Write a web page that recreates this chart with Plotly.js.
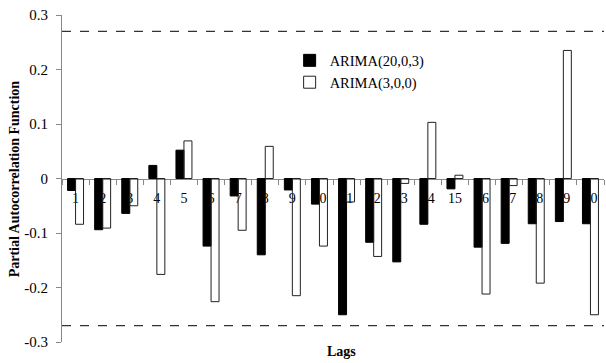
<!DOCTYPE html>
<html>
<head>
<meta charset="utf-8">
<script src="https://cdn.plot.ly/plotly-3.0.1.min.js"></script>
<style>html,body{margin:0;padding:0;background:#fff;}#chart{width:606px;height:363px;}</style>
</head>
<body>
<div id="chart"></div>
<script>
const lags = ['1','2','3','4','5','6','7','8','9','10','11','12','13','14','15','16','17','18','19','20'];
const arima2003 = [-0.022,-0.094,-0.064,0.024,0.052,-0.124,-0.032,-0.140,-0.021,-0.047,-0.250,-0.117,-0.153,-0.084,-0.019,-0.126,-0.119,-0.083,-0.079,-0.083];
const arima300 = [-0.084,-0.091,-0.050,-0.176,0.069,-0.226,-0.095,0.059,-0.215,-0.124,-0.043,-0.143,-0.009,0.103,0.006,-0.212,-0.013,-0.192,0.235,-0.250];
const seriesNames = ['ARIMA(20,0,3)','ARIMA(3,0,0)'];
const bound = 0.27;
const yTicks = [-0.3,-0.2,-0.1,0,0.1,0.2,0.3];
const yTickText = ['-0.3','-0.2','-0.1','0','0.1','0.2','0.3'];

const serif = "'Liberation Serif', 'Times New Roman', serif";

const traces = [
  {type:'bar', name:seriesNames[0], x:lags, y:arima2003,
   marker:{color:'#000', line:{color:'#000', width:1}}},
  {type:'bar', name:seriesNames[1], x:lags, y:arima300,
   marker:{color:'rgba(255,255,255,0)', line:{color:'#222', width:1}}}
];

const layout = {
  width:606, height:363,
  margin:{l:62, r:2, t:15, b:21},
  paper_bgcolor:'#fff', plot_bgcolor:'#fff',
  font:{family:serif, size:14, color:'#000'},
  barmode:'group', bargap:0.41, bargroupgap:0,
  showlegend:true,
  legend:{x:0.42, y:0.91, xanchor:'left', yanchor:'top', bgcolor:'rgba(0,0,0,0)',
          font:{family:serif, size:14.5, color:'#000'}, tracegroupgap:0},
  xaxis:{type:'category', anchor:'free', position:0.5, layer:'below traces',
         showline:true, linecolor:'#888', linewidth:1,
         ticks:'outside', ticklen:5, tickcolor:'#888', tickson:'boundaries',
         ticklabelstandoff:7,
         showgrid:false, zeroline:false, fixedrange:true,
         tickfont:{family:serif, size:14, color:'#000'}},
  yaxis:{range:[-0.3,0.3], tickvals:yTicks, ticktext:yTickText,
         showline:true, linecolor:'#888', linewidth:1,
         ticks:'outside', ticklen:5, tickcolor:'#888',
         ticklabelstandoff:5,
         showgrid:false, zeroline:false,
         tickfont:{family:serif, size:15, color:'#000'}},
  shapes:[
    {type:'line', xref:'paper', x0:0, x1:1, yref:'y', y0:bound, y1:bound,
     line:{color:'#333', width:1.3, dash:'dash'}},
    {type:'line', xref:'paper', x0:0, x1:1, yref:'y', y0:-bound, y1:-bound,
     line:{color:'#333', width:1.3, dash:'dash'}}
  ],
  annotations:[
    {text:'<b>Lags</b>', xref:'paper', yref:'paper', x:0.515, y:-0.028, xanchor:'center', yanchor:'middle',
     showarrow:false, font:{family:serif, size:14, color:'#000'}},
    {text:'<b>Partial Autocorrelation Function</b>', xref:'paper', yref:'paper', x:-0.087, y:0.5,
     xanchor:'center', yanchor:'middle', textangle:-90,
     showarrow:false, font:{family:serif, size:14, color:'#000'}}
  ]
};

Plotly.newPlot('chart', traces, layout, {displayModeBar:false, staticPlot:true});
</script>
</body>
</html>
